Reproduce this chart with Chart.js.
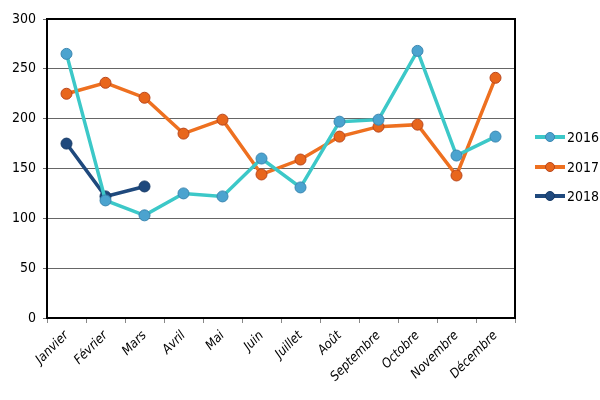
<!DOCTYPE html>
<html>
<head>
<meta charset="utf-8">
<script src="https://cdn.jsdelivr.net/npm/chart.js@4/dist/chart.umd.min.js"></script>
<style>
  html, body { margin: 0; padding: 0; background: #fff; }
  #wrap { width: 600px; height: 400px; }
</style>
</head>
<body>
<div id="wrap"><canvas id="chart"></canvas></div>
<script>
const months = ["Janvier", "Février", "Mars", "Avril", "Mai", "Juin", "Juillet",
  "Août", "Septembre", "Octobre", "Novembre", "Décembre"];
const values2016 = [265, 118, 103, 125, 122, 160, 131, 197, 199, 268, 163, 182];
const values2017 = [225, 236, 221, 185, 199, 144, 159, 182, 192, 194, 143, 241];
const values2018 = [175, 122, 132];
const yTicks = [0, 50, 100, 150, 200, 250, 300];

const FONT = "'DejaVu Sans Condensed', 'Liberation Sans Narrow', sans-serif";

// frame round the plot area
const framePlugin = {
  id: "frame",
  beforeDatasetsDraw(chart) {
    const { ctx, chartArea: a } = chart;
    ctx.save();
    ctx.strokeStyle = "#000";
    ctx.lineWidth = 2;
    ctx.strokeRect(a.left, a.top, a.right - a.left, a.bottom - a.top);
    ctx.restore();
  }
};

// legend drawn as line + marker, like the spreadsheet one
const legendPlugin = {
  id: "sideLegend",
  afterDraw(chart) {
    const { ctx } = chart;
    const rows = [137, 167, 196];
    ctx.save();
    chart.data.datasets.forEach((ds, i) => {
      const y = rows[i];
      ctx.strokeStyle = ds.borderColor;
      ctx.lineWidth = 4;
      ctx.beginPath();
      ctx.moveTo(535, y);
      ctx.lineTo(565, y);
      ctx.stroke();
      ctx.beginPath();
      ctx.arc(550, y, 4.5, 0, Math.PI * 2);
      ctx.fillStyle = ds.pointBackgroundColor;
      ctx.fill();
      ctx.lineWidth = 1;
      ctx.strokeStyle = ds.pointBorderColor;
      ctx.stroke();
      ctx.fillStyle = "#000";
      ctx.font = "14px " + FONT;
      ctx.textBaseline = "middle";
      ctx.fillText(ds.label, 567, y + 1);
    });
    ctx.restore();
  }
};

new Chart(document.getElementById("chart"), {
  type: "line",
  data: {
    labels: months,
    datasets: [
      {
        label: "2016",
        data: values2016,
        borderColor: "#3CC8C8",
        backgroundColor: "#3CC8C8",
        pointBackgroundColor: "#4BA3CF",
        pointBorderColor: "#3A86B0",
        borderWidth: 3.5,
        pointBorderWidth: 1
      },
      {
        label: "2017",
        data: values2017,
        borderColor: "#EE7020",
        backgroundColor: "#EE7020",
        pointBackgroundColor: "#E8661C",
        pointBorderColor: "#B8461C",
        borderWidth: 3.5,
        pointBorderWidth: 1
      },
      {
        label: "2018",
        data: values2018,
        borderColor: "#1F497D",
        backgroundColor: "#1F497D",
        pointBackgroundColor: "#1F497D",
        pointBorderColor: "#173A66",
        borderWidth: 3.5,
        pointBorderWidth: 1
      }
    ]
  },
  options: {
    responsive: true,
    maintainAspectRatio: false,
    animation: false,
    layout: { padding: { top: 19, right: 85, bottom: 0, left: 0 } },
    elements: {
      line: { tension: 0 },
      point: { radius: 5.5, hoverRadius: 5.5 }
    },
    plugins: {
      legend: { display: false },
      tooltip: { enabled: false }
    },
    scales: {
      x: {
        offset: true,
        afterFit(scale) { scale.height = 82; },
        grid: {
          offset: true,
          drawOnChartArea: false,
          drawTicks: true,
          tickLength: 5,
          color: "#888"
        },
        border: { display: false },
        ticks: {
          minRotation: 45,
          maxRotation: 45,
          padding: 5,
          color: "#000",
          font: { family: FONT, size: 13, style: "italic" }
        }
      },
      y: {
        min: 0,
        max: 300,
        afterFit(scale) { scale.width = 47; },
        afterBuildTicks(scale) { scale.ticks = yTicks.map(v => ({ value: v })); },
        grid: {
          color: "#666",
          lineWidth: 1,
          tickLength: 4
        },
        border: { display: false },
        ticks: {
          padding: 7,
          color: "#000",
          font: { family: FONT, size: 14 }
        }
      }
    }
  },
  plugins: [framePlugin, legendPlugin]
});
</script>
</body>
</html>
